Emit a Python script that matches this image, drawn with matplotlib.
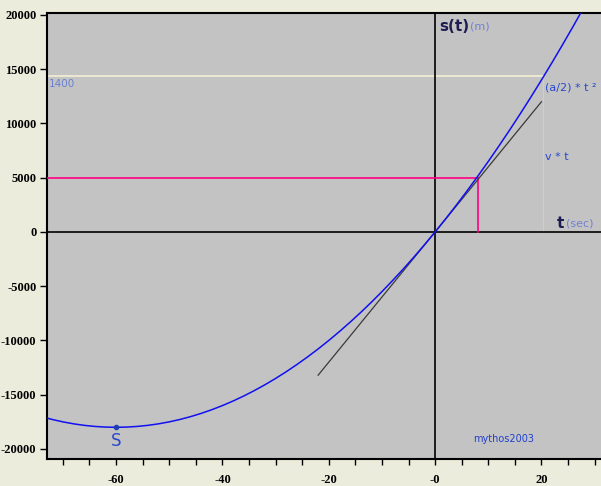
import matplotlib.pyplot as plt
from matplotlib.ticker import MultipleLocator, FixedLocator

# s(t) curve
t_vals = [-74, -72, -70, -68, -66, -64, -62, -60, -58, -56, -54, -52, -50,
          -48, -46, -44, -42, -40, -38, -36, -34, -32, -30, -28, -26, -24,
          -22, -20, -18, -16, -14, -12, -10, -8, -6, -4, -2, 0, 2, 4, 6, 8,
          10, 12, 14, 16, 18, 20, 22, 24, 26, 28, 30]
s_vals = [-17020, -17280, -17500, -17680, -17820, -17920, -17980, -18000,
          -17980, -17920, -17820, -17680, -17500, -17280, -17020, -16720,
          -16380, -16000, -15580, -15120, -14620, -14080, -13500, -12880,
          -12220, -11520, -10780, -10000, -9180, -8320, -7420, -6480, -5500,
          -4480, -3420, -2320, -1180, 0, 1220, 2480, 3780, 5120, 6500, 7920,
          9380, 10880, 12420, 14000, 15620, 17280, 18980, 20720, 22500]

# tangent v*t
tan_t = [-22, 20]
tan_s = [-13200, 12000]

# vertex S
vertex_t = -60
vertex_s = -18000

# red marker lines
red_t = 8.1
red_s = 5000

# light guide line
guide_t = 20.3
guide_s = 14400

x_ticks = [-60, -40, -20, 0, 20]
x_labels = ["-60", "-40", "-20", "-0", "20"]
y_ticks = [-20000, -15000, -10000, -5000, 0, 5000, 10000, 15000, 20000]

fig = plt.figure(figsize=(6.01, 4.86), dpi=100, facecolor="#ECECDC")
ax = fig.add_axes([0.079, 0.0556, 0.921, 0.9177])
ax.set_facecolor("#C4C3C4")
xmin, xmax = -72.9, 31.2
ymin, ymax = -20920, 20180
ax.set_xlim(xmin, xmax)
ax.set_ylim(ymin, ymax)

# guide lines
ax.plot([xmin, guide_t], [guide_s, guide_s], color="#F2F0D4", lw=1.2, zorder=1)
ax.plot([guide_t, guide_t], [guide_s, 0], color="#D0CFC8", lw=0.7, zorder=1)

# axes cross
ax.axhline(0, color="black", lw=1.2, zorder=2)
ax.axvline(0, color="black", lw=1.2, zorder=2)

ax.plot([xmin, red_t], [red_s, red_s], color="#FF0080", lw=1.2, zorder=3)
ax.plot([red_t, red_t], [red_s, 0], color="#FF0080", lw=1.2, zorder=3)

ax.plot(tan_t, tan_s, color="#3A3A3A", lw=0.9, zorder=4)
ax.plot(t_vals, s_vals, color="#1010F0", lw=1.1, zorder=5)
ax.plot([vertex_t], [vertex_s], "o", color="#2040B0", ms=3, zorder=6)

ax.text(vertex_t, -19720, "S", color="#2848C8", fontsize=12, ha="center", va="baseline")
ax.text(12.8, -19050, "mythos2003", color="#2040D0", fontsize=7, ha="center", va="center")
ax.text(0.8, 18900, "s(t)", color="#1C1C50", fontsize=11, fontweight="bold", va="center")
ax.text(6.5, 18900, "(m)", color="#7080D0", fontsize=8, va="center")
ax.text(22.9, 800, "t", color="#1C1C50", fontsize=11, fontweight="bold", va="center")
ax.text(24.6, 800, "(sec)", color="#7080D0", fontsize=8, va="center")
ax.text(20.6, 13300, "(a/2) * t ²", color="#2848D0", fontsize=8, va="center")
ax.text(20.6, 6900, "v * t", color="#2848D0", fontsize=8, va="center")
ax.text(-72.6, 13600, "1400", color="#6A80D0", fontsize=7.5, va="center")

for side in ["top", "left", "bottom"]:
    ax.spines[side].set_color("black")
    ax.spines[side].set_linewidth(1.5)
ax.spines["right"].set_visible(False)

ax.xaxis.set_major_locator(FixedLocator(x_ticks))
ax.set_xticklabels(x_labels)
ax.xaxis.set_minor_locator(MultipleLocator(5))
ax.set_yticks(y_ticks)
ax.set_yticklabels([str(v) for v in y_ticks])
ax.tick_params(axis="x", which="both", length=4, width=1, direction="out", pad=7)
ax.tick_params(axis="y", which="major", length=5, width=1, direction="out", pad=3)
for lab in ax.get_xticklabels() + ax.get_yticklabels():
    lab.set_fontfamily("Liberation Serif")
    lab.set_fontweight("bold")
    lab.set_fontsize(9)

fig.savefig("out.png", dpi=100, facecolor=fig.get_facecolor())
